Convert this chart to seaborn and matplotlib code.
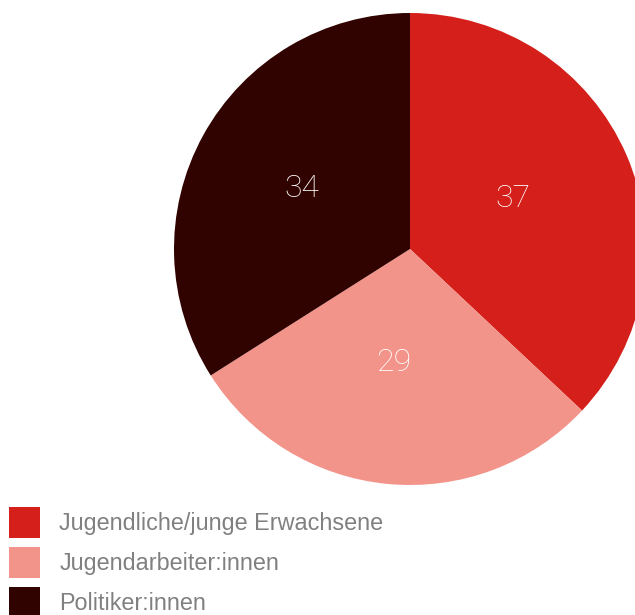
import matplotlib
matplotlib.use("Agg")
import matplotlib.pyplot as plt
import matplotlib.transforms as mtransforms
import seaborn as sns

categories = ["Jugendliche/junge Erwachsene", "Jugendarbeiter:innen", "Politiker:innen"]
values = [37, 29, 34]
colors = ["#D41F1A", "#F2948A", "#300300"]

sns.set_theme(style="white")
plt.rcParams['font.family'] = ['Liberation Sans', 'DejaVu Sans']

W, H = 635, 615
fig = plt.figure(figsize=(W / 100, H / 100), dpi=100)
ax = fig.add_axes([0, 0, 1, 1])

wedges, texts = ax.pie(
    values,
    labels=[str(v) for v in values],
    colors=colors,
    startangle=90,
    counterclock=False,
    center=(410, H - 249),
    radius=236,
    labeldistance=0.5,
    frame=True,
    textprops=dict(color="white", fontsize=23, family=["Roboto", "DejaVu Sans"],
                   fontweight="light", ha="center", va="center"),
    wedgeprops=dict(linewidth=0),
)
shift = mtransforms.offset_copy(ax.transData, fig=fig, x=-5, y=4, units="dots")
for t in texts:
    t.set_horizontalalignment("center")
    t.set_transform(shift)
ax.set_xlim(0, W)
ax.set_ylim(0, H)
ax.set_aspect("auto")
ax.axis("off")

leg = fig.legend(
    wedges, categories,
    loc="upper left",
    bbox_to_anchor=(9 / W, 1 - 507 / H),
    frameon=False,
    handlelength=1.32,
    handleheight=1.68,
    handletextpad=0.84,
    labelspacing=0.37,
    borderpad=0,
    borderaxespad=0,
    prop=dict(size=16.8),
)
for t in leg.get_texts():
    t.set_color("#808080")

fig.savefig("out.png", dpi=100)
